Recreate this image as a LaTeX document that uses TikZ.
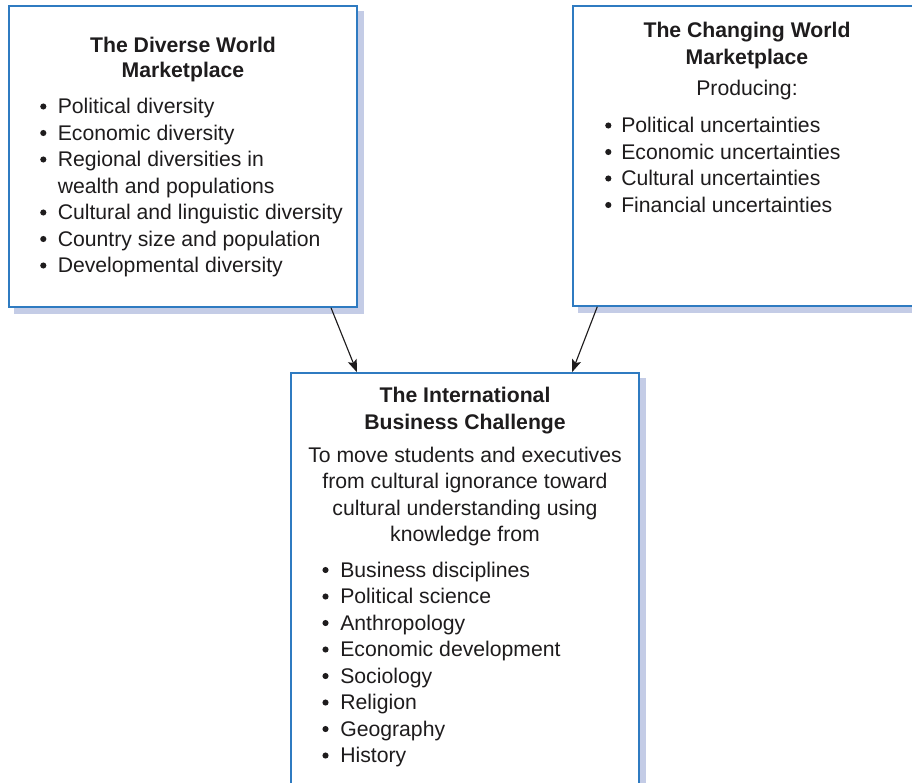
\documentclass[tikz,border=0pt]{standalone}
\usepackage{fontspec}
\setmainfont{Liberation Sans}
\usetikzlibrary{calc,arrows.meta,backgrounds}
\definecolor{boxblue}{HTML}{2F7BC1}
\definecolor{shadowc}{HTML}{C4CCE6}
\definecolor{txtc}{HTML}{1E1C1D}
\tikzset{
  box/.style={draw=boxblue, line width=1.1pt, fill=white, inner sep=0pt, rectangle},
  txt/.style={inner sep=0pt, text=txtc, font=\fontsize{15.9}{19.9}\selectfont},
  ttl/.style={txt, anchor=base, font=\fontsize{15.9}{19.9}\selectfont\bfseries},
  ctr/.style={txt, anchor=base},
  item/.style={txt, anchor=base west},
  bul/.style={circle, fill=txtc, inner sep=0pt, minimum size=4.6pt},
  conn/.style={draw=txtc, line width=0.85pt, -{Stealth[length=9.5pt,width=7pt,inset=2pt]}}
}
\begin{document}
\begin{tikzpicture}[x=0.75pt,y=-0.75pt]
\useasboundingbox (0,0) rectangle (912,782);
\clip (0,0) rectangle (912,782);
% boxes
\node[box, minimum width=261pt, minimum height=225.75pt] (dw) at (183,156.5) {};
\node[box, minimum width=271.5pt, minimum height=225pt] (cw) at (754,156) {};
\node[box, minimum width=261pt, minimum height=335.25pt] (ibc) at (465,596.5) {};
\begin{pgfonlayer}{background}
  \fill[shadowc] ($(dw.south west)+(6,6)$) rectangle ($(dw.north east)+(6,6)$);
  \fill[shadowc] ($(cw.south west)+(6,6)$) rectangle ($(cw.north east)+(6,6)$);
  \fill[shadowc] ($(ibc.south west)+(6,6)$) rectangle ($(ibc.north east)+(6,6)$);
\end{pgfonlayer}
% left box text
\node[ttl] (dwt1) at (183,52) {The Diverse World};
\node[ttl] (dwt2) at (183,77.5) {Marketplace};
\foreach \t [count=\i] in {Political diversity,Economic diversity,Regional diversities in,wealth and populations,Cultural and linguistic diversity,Country size and population,Developmental diversity}{
  \node[item] (dwi\i) at (57.5,{113.5+(\i-1)*26.5}) {\t};
}
\foreach \i in {1,2,3,5,6,7}{
  \node[bul] (dwb\i) at (43.3,{106.5+(\i-1)*26.5}) {};
}
% right box text
\node[ttl] (cwt1) at (747,37) {The Changing World};
\node[ttl] (cwt2) at (747,64) {Marketplace};
\node[ctr] (cwp) at (747,95.5) {Producing:};
\foreach \t [count=\i] in {Political uncertainties,Economic uncertainties,Cultural uncertainties,Financial uncertainties}{
  \node[item] (cwi\i) at (621,{132.5+(\i-1)*26.5}) {\t};
  \node[bul] (cwb\i) at (608.3,{125.5+(\i-1)*26.5}) {};
}
% bottom box text
\node[ttl] (ibt1) at (465,402.5) {The International};
\node[ttl] (ibt2) at (465,429) {Business Challenge};
\node[ctr] (ibp1) at (465,462) {To move students and executives};
\node[ctr] (ibp2) at (465,488.5) {from cultural ignorance toward};
\node[ctr] (ibp3) at (465,515) {cultural understanding using};
\node[ctr] (ibp4) at (465,541.5) {knowledge from};
\foreach \t [count=\i] in {Business disciplines,Political science,Anthropology,Economic development,Sociology,Religion,Geography,History}{
  \node[item] (ibi\i) at (340,{577+(\i-1)*26.5}) {\t};
  \node[bul] (ibb\i) at (325.5,{570+(\i-1)*26.5}) {};
}
% connectors
\draw[conn] ($(dw.south)+(148,0)$) -- ($(ibc.north)+(-108,0)$);
\draw[conn] ($(cw.south west)+(25,0)$) -- ($(ibc.north)+(107,0)$);
\end{tikzpicture}
\end{document}
